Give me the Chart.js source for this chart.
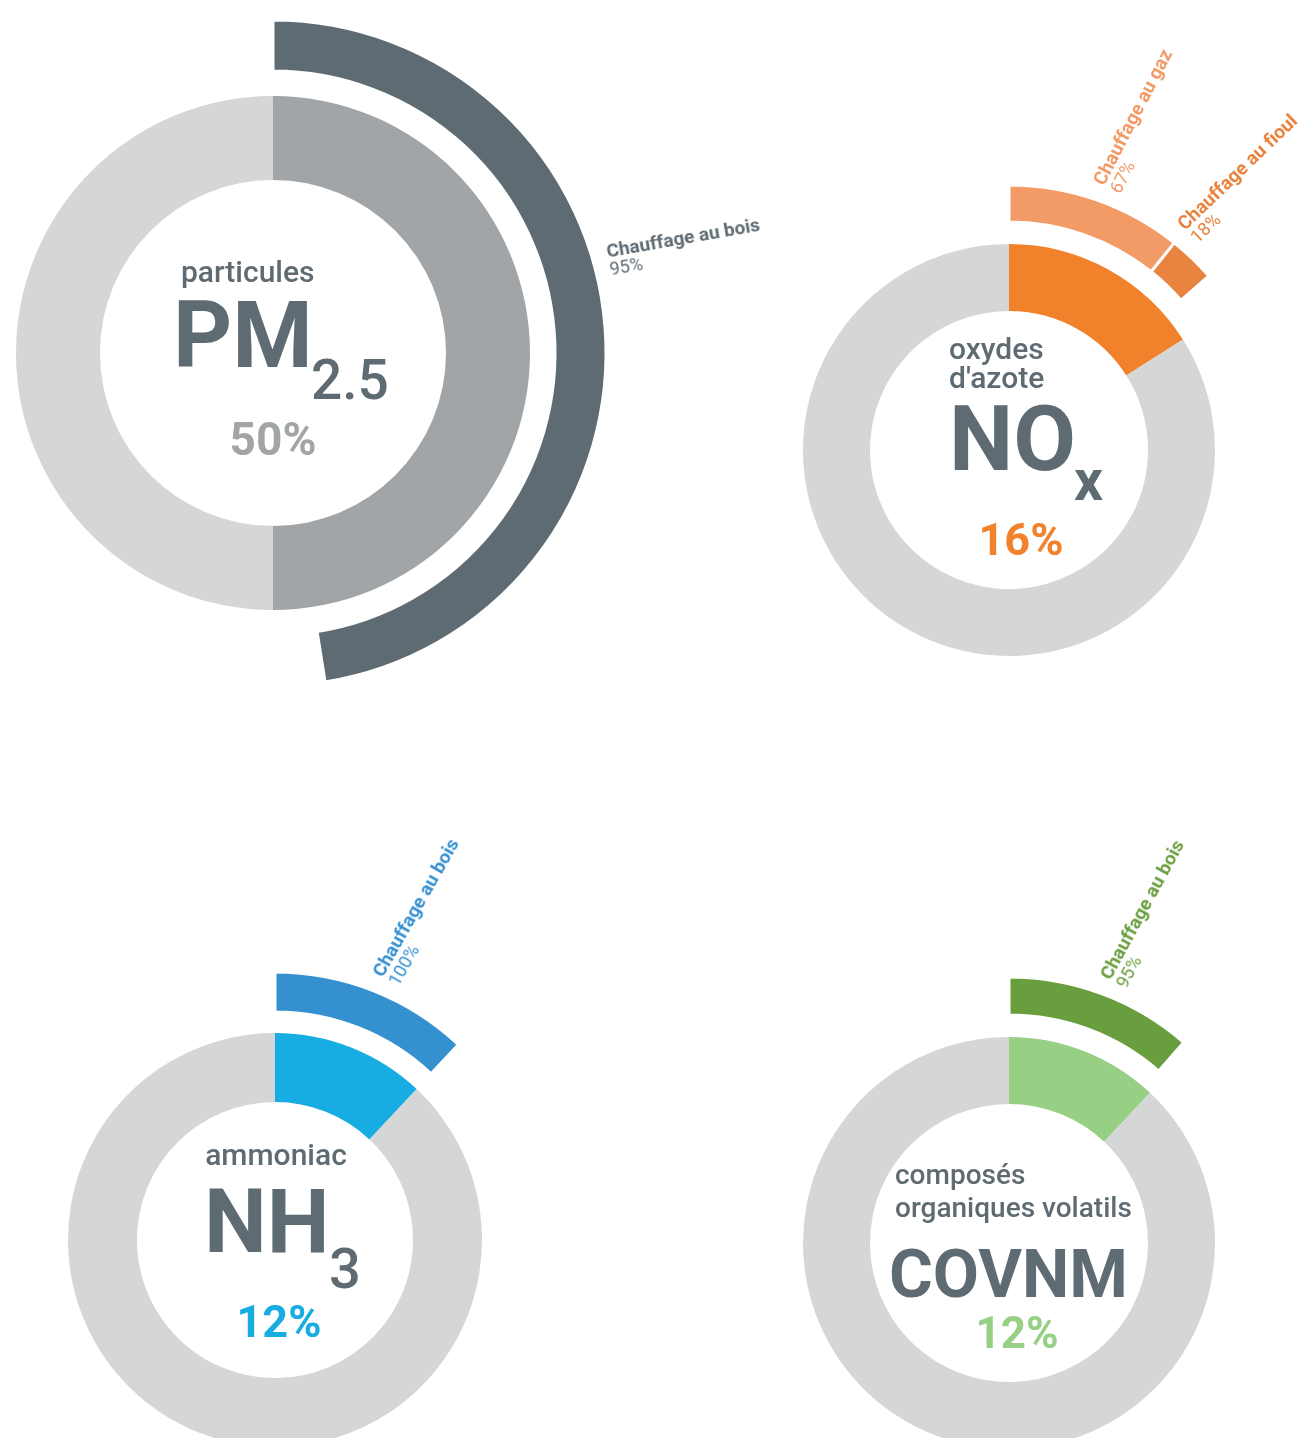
<!DOCTYPE html>
<html lang="fr">
<head>
<meta charset="utf-8">
<title>Part du chauffage dans les émissions</title>
<script src="https://cdn.jsdelivr.net/npm/chart.js@4.4.1/dist/chart.umd.min.js"></script>
<style>
  html, body { margin: 0; padding: 0; background: #fff; overflow: hidden; }
  #page { position: relative; width: 1300px; height: 1438px; overflow: hidden;
          font-family: Roboto, "Open Sans", sans-serif; color: #5f6b73; }
  .wrap { position: absolute; }
  .t { position: absolute; line-height: 1; white-space: nowrap; }
  .c { transform: translateX(-50%); }
  .lab { position: absolute; transform-origin: 0 0; white-space: nowrap; line-height: 18px; }
  .lab b { display: block; font-size: 19px; font-weight: 700; }
  .lab span { display: block; font-size: 18px; font-weight: 400; }
</style>
</head>
<body>
<div id="page">
  <!-- PM2.5 -->
  <div class="t" style="left:181px;top:257px;font-size:30px;font-weight:500">particules</div>
  <div class="t" style="left:173px;top:290px;font-size:92px;font-weight:700">PM</div>
  <div class="t" style="left:311px;top:353px;font-size:55px;font-weight:500">2.5</div>
  <div class="t c" style="left:273px;top:416px;font-size:46px;font-weight:700;color:#a2a5a8">50%</div>

  <!-- NOx -->
  <div class="t" style="left:949px;top:334px;font-size:30px;font-weight:500">oxydes</div>
  <div class="t" style="left:949px;top:363px;font-size:30px;font-weight:500">d'azote</div>
  <div class="t" style="left:949px;top:394px;font-size:91px;font-weight:700">NO</div>
  <div class="t" style="left:1074px;top:452px;font-size:57px;font-weight:700">x</div>
  <div class="t c" style="left:1021px;top:517px;font-size:45px;font-weight:700;color:#f2812c">16%</div>

  <!-- NH3 -->
  <div class="t c" style="left:276px;top:1140px;font-size:30px;font-weight:500">ammoniac</div>
  <div class="t" style="left:204px;top:1177px;font-size:89px;font-weight:700">NH</div>
  <div class="t" style="left:329px;top:1241px;font-size:56px;font-weight:500">3</div>
  <div class="t c" style="left:279px;top:1299px;font-size:45px;font-weight:700;color:#17ade2">12%</div>

  <!-- COVNM -->
  <div class="t" style="left:895px;top:1161px;font-size:28px;font-weight:500">composés</div>
  <div class="t" style="left:895px;top:1194px;font-size:28px;font-weight:500">organiques volatils</div>
  <div class="t" style="left:889px;top:1241px;font-size:67px;font-weight:700">COVNM</div>
  <div class="t c" style="left:1017px;top:1311px;font-size:44px;font-weight:700;color:#97cf85">12%</div>
</div>

<script>
// part du chauffage résidentiel dans les émissions de chaque polluant (%)
const pollutants   = ["PM2.5", "NOx", "NH3", "COVNM"];
const heatingShare = [50, 16, 12, 12];

// répartition de cette part par type de chauffage (%)
const pmSources  = ["Chauffage au bois"];
const pmValues   = [95];
const noxSources = ["Chauffage au gaz", "Chauffage au fioul"];
const noxValues  = [67, 18];
const nh3Sources = ["Chauffage au bois"];
const nh3Values  = [100];
const covSources = ["Chauffage au bois"];
const covValues  = [95];

const PAGE_W = 1300;
const REST  = "#d5d7d6";
const CLEAR = "rgba(0,0,0,0)";
const DEG = Math.PI / 180;
const LABEL_GAP  = 13;          // space between arc and label
const LABEL_LIFT = 36;          // first baseline sits this far before the ray
const LABEL_TILT = 8 * DEG;     // labels lean a bit past the arc middle
const MAX_LABEL_ANGLE = 80 * DEG;

// --- layout / colours for each ring ---
const rings = [
  { cx: 273,  cy: 353,  r: 333, hole: 173, weights: [51, 25, 84],
    share: heatingShare[0], sources: pmSources,  values: pmValues,
    main: "#a2a5a8", outer: ["#5f6b73"] },
  { cx: 1009, cy: 450,  r: 265, hole: 139, weights: [37, 22, 67],
    share: heatingShare[1], sources: noxSources, values: noxValues,
    main: "#f2812c", outer: ["#f29b66", "#e8843f"] },
  { cx: 275,  cy: 1240, r: 268, hole: 138, weights: [40, 21, 69],
    share: heatingShare[2], sources: nh3Sources, values: nh3Values,
    main: "#17ade2", outer: ["#3590d0"] },
  { cx: 1009, cy: 1243, r: 266, hole: 139, weights: [38, 22, 67],
    share: heatingShare[3], sources: covSources, values: covValues,
    main: "#97cf85", outer: ["#699e3e"] }
];

const page = document.getElementById("page");

rings.forEach((ring, i) => {
  const size = 2 * ring.r + 20;
  const left = ring.cx - size / 2;
  const top  = ring.cy - size / 2;

  const wrap = document.createElement("div");
  wrap.className = "wrap";
  wrap.style.left = left + "px";
  wrap.style.top  = top + "px";
  const canvas = document.createElement("canvas");
  canvas.width = size;
  canvas.height = size;
  wrap.appendChild(canvas);
  page.insertBefore(wrap, page.firstChild);

  // rotated source labels, placed from the outer arcs after drawing
  const labels = ring.sources.map((name, k) => {
    const el = document.createElement("div");
    el.className = "lab";
    el.style.color = ring.outer[k];
    el.innerHTML = `<b>${name}</b><span>${ring.values[k]}%</span>`;
    page.appendChild(el);
    return el;
  });

  const parts = ring.values.map(v => v * ring.share / 100);
  const used  = parts.reduce((a, b) => a + b, 0);

  const sourceLabels = {
    id: "sourceLabels" + i,
    afterDraw(chart) {
      const arcs = chart.getDatasetMeta(0).data;
      labels.forEach((el, k) => {
        const p = arcs[k].getProps(["x", "y", "startAngle", "endAngle", "outerRadius"], true);
        let a = (p.startAngle + p.endAngle) / 2 + LABEL_TILT;
        a = Math.min(a + Math.PI / 2, MAX_LABEL_ANGLE) - Math.PI / 2;
        const rr = p.outerRadius + LABEL_GAP;
        const w  = el.offsetWidth;
        const endX = ang => left + p.x + Math.cos(ang) * (rr + w) + Math.sin(ang) * LABEL_LIFT;
        // turn the label back a little if it would run off the page
        while (endX(a) > PAGE_W - 2 && a > -Math.PI / 2) a -= 0.002;
        el.style.left = (left + p.x + Math.cos(a) * rr) + "px";
        el.style.top  = (top + p.y + Math.sin(a) * rr) + "px";
        el.style.transform = `rotate(${a / DEG}deg) translateY(-${LABEL_LIFT + 15}px)`;
      });
    }
  };

  new Chart(canvas, {
    type: "doughnut",
    data: {
      labels: [...ring.sources, "autre"],
      datasets: [
        {
          data: [...parts, 100 - used],
          backgroundColor: [...ring.outer, CLEAR],
          borderColor: "#fff",
          borderWidth: [...ring.outer.map(() => 3), 0],
          weight: ring.weights[0]
        },
        {
          data: [100],
          backgroundColor: CLEAR,
          borderWidth: 0,
          weight: ring.weights[1]
        },
        {
          data: [ring.share, 100 - ring.share],
          backgroundColor: [ring.main, REST],
          borderWidth: 0,
          weight: ring.weights[2]
        }
      ]
    },
    options: {
      responsive: false,
      animation: false,
      events: [],
      radius: ring.r,
      cutout: (ring.hole / ring.r * 100) + "%",
      hoverOffset: 0,
      plugins: { legend: { display: false }, tooltip: { enabled: false } }
    },
    plugins: [sourceLabels]
  });
});
</script>
</body>
</html>
